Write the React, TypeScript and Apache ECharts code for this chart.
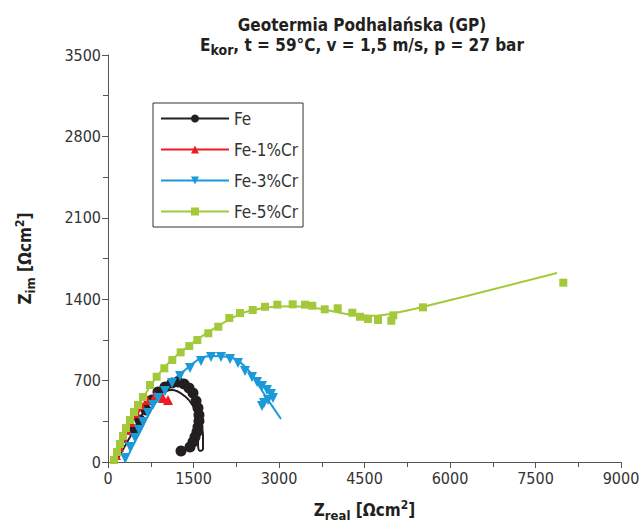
import React, { useEffect, useRef } from "react";
import * as echarts from "echarts";

const FONT = "'Liberation Sans Narrow', 'DejaVu Sans Condensed', 'Arial Narrow', sans-serif";

const seriesNames = ["Fe", "Fe-1%Cr", "Fe-3%Cr", "Fe-5%Cr"];
const colors = ["#231f20", "#ed1c24", "#1a9ad8", "#a3c93a"];

// measured points [Zreal, Zim]
const fePoints: number[][] = [
  [439, 275], [561, 361], [667, 447], [772, 533], [877, 602], [1000, 645], [1123, 679],
  [1228, 688], [1333, 671], [1421, 636], [1491, 593], [1544, 525], [1579, 464], [1596, 404],
  [1596, 353], [1579, 301], [1561, 258], [1526, 215], [1491, 172], [1439, 129], [1281, 95],
];
const fe1Points: number[][] = [
  [140, 60], [193, 129], [263, 206], [333, 275], [404, 344], [491, 421], [579, 490],
  [684, 533], [825, 568], [965, 550], [1053, 533],
];
const fe3Points: number[][] = [
  [298, 34], [386, 129], [474, 206], [544, 275], [614, 344], [702, 421], [789, 490],
  [877, 550], [1000, 610], [1123, 679], [1263, 739], [1439, 808], [1632, 868], [1807, 903],
  [1982, 903], [2140, 886], [2281, 851], [2404, 782], [2526, 731], [2614, 688], [2702, 653],
  [2789, 619], [2860, 585], [2895, 550], [2807, 533], [2737, 507], [2702, 481],
];
const fe5Points: number[][] = [
  [105, 17], [158, 86], [211, 155], [263, 224], [316, 292], [386, 361], [456, 430],
  [526, 490], [614, 559], [737, 662], [854, 733], [988, 806], [1128, 877], [1275, 943],
  [1426, 997], [1567, 1049], [1760, 1107], [1935, 1163], [2128, 1238], [2316, 1281],
  [2539, 1307], [2754, 1335], [2970, 1353], [3240, 1356], [3456, 1353], [3584, 1344],
  [3802, 1313], [4030, 1322], [4286, 1284], [4421, 1249], [4561, 1230], [4737, 1221],
  [4970, 1215], [5005, 1261], [5526, 1330], [7988, 1542],
];

// fitted curves [Zreal, Zim]
const feFit: number[][] = [
  [140, 0], [386, 215], [649, 447], [912, 593], [1123, 620], [1351, 565], [1491, 482],
  [1614, 361], [1667, 224], [1667, 112], [1614, 95], [1579, 163], [1596, 249],
];
const fe1Fit: number[][] = [
  [105, 0], [298, 215], [561, 447], [825, 550], [1000, 545],
];
const fe3Fit: number[][] = [
  [298, 0], [561, 258], [912, 576], [1351, 791], [1789, 911], [2140, 900], [2491, 774],
  [2667, 640], [2800, 540], [3035, 370],
];
const fe5Fit: number[][] = [
  [88, 0], [300, 250], [600, 540], [1000, 820], [1500, 1030], [2000, 1190], [2491, 1300],
  [3246, 1340], [3661, 1322], [4246, 1268], [4654, 1258], [5005, 1279], [5532, 1335],
  [7877, 1625],
];

const xTicks = { min: 0, max: 9000, interval: 1500 };
const yTicks = { min: 0, max: 3500, interval: 700 };

export default function App() {
  const ref = useRef<HTMLDivElement>(null);
  useEffect(() => {
    if (!ref.current) return;
    const chart = echarts.init(ref.current, undefined, { renderer: "svg" });
    const pts = [fePoints, fe1Points, fe3Points, fe5Points];
    const fits = [feFit, fe1Fit, fe3Fit, fe5Fit];
    const symbols = ["circle", "triangle", "triangle", "rect"];
    const rot = [0, 0, 180, 0];
    const sizes = [11, 10, 10, 8];
    const series: any[] = [];
    fits.forEach((d, i) => {
      series.push({
        name: seriesNames[i] + " fit",
        type: "line",
        data: d,
        smooth: 0.4,
        showSymbol: false,
        symbol: "none",
        lineStyle: { color: colors[i], width: 2 },
        z: 2,
      });
    });
    pts.forEach((d, i) => {
      series.push({
        name: seriesNames[i],
        type: "line",
        data: d,
        symbol: symbols[i],
        symbolRotate: rot[i],
        symbolSize: sizes[i],
        showAllSymbol: true,
        itemStyle: { color: colors[i] },
        lineStyle: { color: colors[i], width: 0, opacity: 0 },
        z: 3,
      });
    });
    const axisLabelStyle = { fontFamily: FONT, fontSize: 16, color: "#333" };
    const nameRich = {
      z: { fontFamily: FONT, fontSize: 17, fontWeight: "bold", color: "#231f20", lineHeight: 22 },
      s: { fontFamily: FONT, fontSize: 13, fontWeight: "bold", color: "#231f20", lineHeight: 22, padding: [10, 0, 0, 0] },
      p: { fontFamily: FONT, fontSize: 12, fontWeight: "bold", color: "#231f20", lineHeight: 22, padding: [0, 0, 10, 0] },
    };
    chart.setOption({
      animation: false,
      textStyle: { fontFamily: FONT },
      title: {
        left: 357,
        top: 10,
        textAlign: "center",
        text: "{a|Geotermia Podhalańska (GP)}\n{a|E}{s|kor}{a|, t = 59°C, v = 1,5 m/s, p = 27 bar}",
        textStyle: {
          rich: {
            a: { fontFamily: FONT, fontSize: 17, fontWeight: "bold", color: "#231f20", lineHeight: 20 },
            s: { fontFamily: FONT, fontSize: 14, fontWeight: "bold", color: "#231f20", lineHeight: 20, padding: [9, 0, 0, 0] },
          },
        },
      },
      legend: {
        data: seriesNames,
        orient: "vertical",
        left: 153,
        top: 103,
        padding: [7, 5, 7, 7],
        itemWidth: 68,
        itemHeight: 10,
        itemGap: 14,
        borderColor: "#333",
        borderWidth: 1,
        borderRadius: 0,
        textStyle: { fontFamily: FONT, fontSize: 17, color: "#333" },
        lineStyle: { width: 2, opacity: 1 },
      },
      grid: { left: 108, right: 20, top: 55, bottom: 63, outerBoundsMode: "none", containLabel: false },
      xAxis: {
        type: "value",
        ...xTicks,
        name: "{z|Z}{s|real}{z| [Ωcm}{p|2}{z|]}",
        nameLocation: "middle",
        nameGap: 37,
        nameTextStyle: { rich: nameRich },
        axisLine: { show: true, lineStyle: { color: "#555", width: 1 } },
        axisTick: { show: true, inside: false, length: 6, lineStyle: { color: "#555" } },
        minorTick: { show: true, splitNumber: 2, length: 5, lineStyle: { color: "#555" } },
        splitLine: { show: false },
        axisLabel: { ...axisLabelStyle, margin: 8, formatter: (v: number) => String(v) },
      },
      yAxis: {
        type: "value",
        ...yTicks,
        name: "{z|Z}{s|im}{z| [Ωcm}{p|2}{z|]}",
        nameLocation: "middle",
        nameGap: 72,
        nameRotate: 90,
        nameTextStyle: { rich: nameRich },
        axisLine: { show: true, lineStyle: { color: "#555", width: 1 } },
        axisTick: { show: true, inside: false, length: 6, lineStyle: { color: "#555" } },
        minorTick: { show: true, splitNumber: 2, length: 5, lineStyle: { color: "#555" } },
        splitLine: { show: false },
        axisLabel: { ...axisLabelStyle, margin: 7, formatter: (v: number) => String(v) },
      },
      series,
    });
    return () => chart.dispose();
  }, []);
  return <div ref={ref} style={{ width: 641, height: 525, position: "absolute", left: 0, top: 0 }} />;
}
